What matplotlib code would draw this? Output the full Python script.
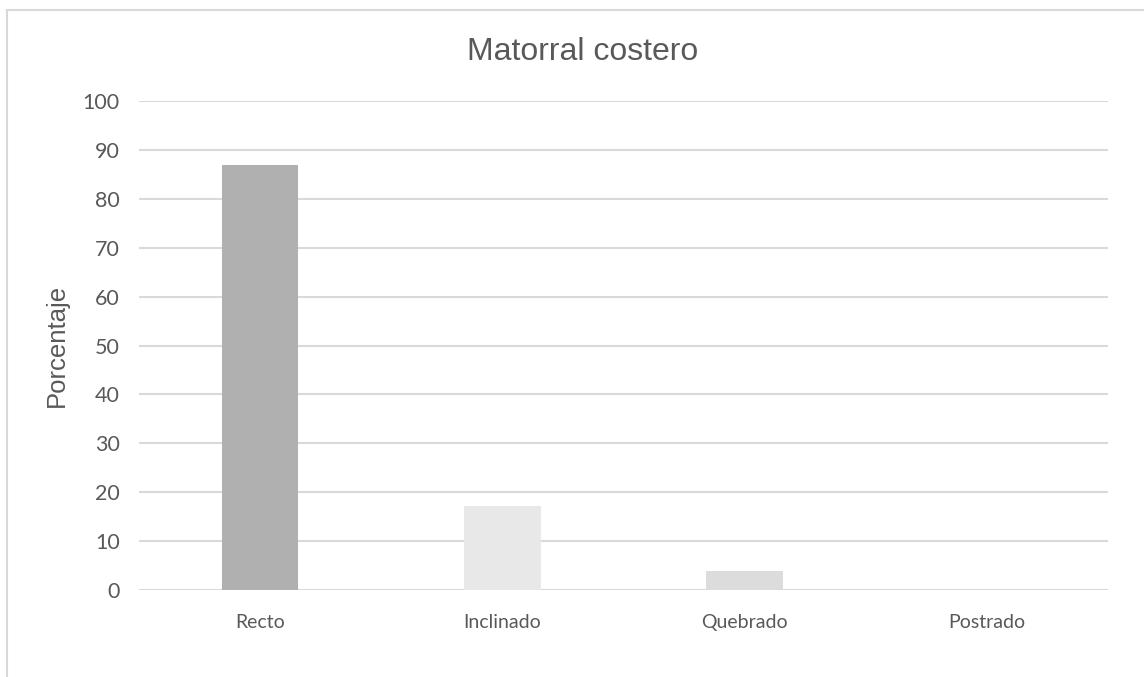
import matplotlib.pyplot as plt
from matplotlib.patches import Rectangle

# data
categorias = ["Recto", "Inclinado", "Quebrado", "Postrado"]
porcentaje = [86.9, 17.2, 3.8, 0.0]
colores = ["#b0b0b0", "#e8e8e8", "#dcdcdc", "#d0d0d0"]
y_ticks = [0, 10, 20, 30, 40, 50, 60, 70, 80, 90, 100]

gris_texto = "#595959"
gris_linea = "#d9d9d9"

fig = plt.figure(figsize=(11.44, 6.77), dpi=100)
fig.patches.append(Rectangle((7 / 1144, -0.1), 1.2, 1 - 10 / 677 + 0.1,
                             transform=fig.transFigure, fill=False,
                             edgecolor=gris_linea, linewidth=1.5))

ax = fig.add_axes([139 / 1144, 1 - 590 / 677, (1108 - 139) / 1144, (590 - 101) / 677])

x = range(len(categorias))
ax.bar(x, porcentaje, width=0.315, color=colores, zorder=3)

ax.set_xlim(-0.5, len(categorias) - 0.5)
ax.set_ylim(0, 100)
ax.set_yticks(y_ticks)
ax.set_xticks(list(x))
ax.set_xticklabels(categorias)
ax.grid(axis="y", color=gris_linea, linewidth=1.5, zorder=0)
ax.set_axisbelow(True)

for s in ax.spines.values():
    s.set_visible(False)
ax.tick_params(axis="both", length=0, colors=gris_texto)
ax.tick_params(axis="y", labelsize=15.5, pad=14)
ax.tick_params(axis="x", labelsize=14, pad=17)
for lab in ax.get_yticklabels() + ax.get_xticklabels():
    lab.set_fontfamily("Lato")

fig.text(583 / 1144, 1 - 52 / 677, "Matorral costero", ha="center", va="center",
         fontsize=23, color=gris_texto, family="Liberation Sans")
fig.text(57 / 1144, 1 - 345 / 677, "Porcentaje", ha="center", va="center",
         rotation=90, fontsize=18.5, color=gris_texto, family="Liberation Sans")

fig.savefig("out.png", dpi=100)
